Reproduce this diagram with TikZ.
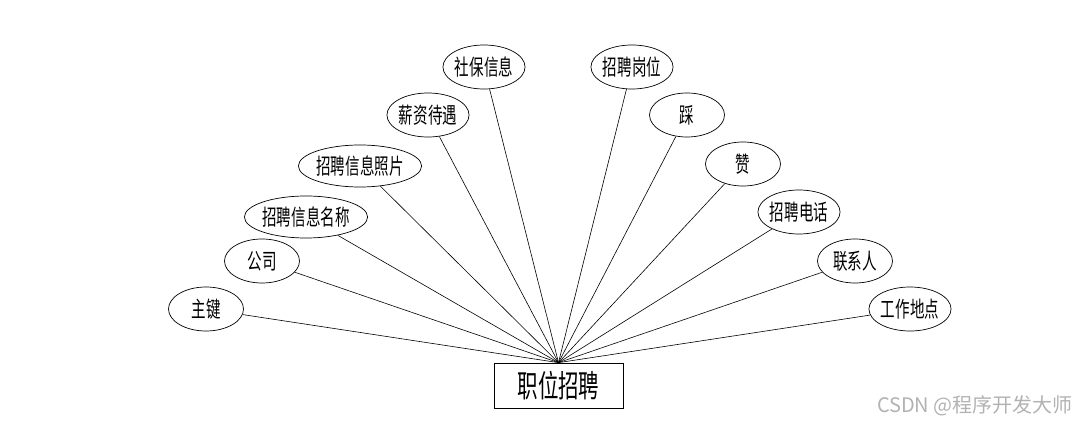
\documentclass[tikz,border=0pt]{standalone}
\usepackage{fontspec}
\setmainfont{Noto Sans CJK SC}
\usetikzlibrary{shapes.geometric}
\tikzset{
  attr/.style={ellipse,draw,line width=0.7pt,inner sep=0pt,minimum width=75pt,minimum height=44pt},
  wide/.style={minimum width=99pt,minimum height=42pt},
  ent/.style={rectangle,draw,line width=0.7pt,inner sep=0pt,minimum width=129pt,minimum height=45pt},
  link/.style={line width=0.6pt}
}
\newcommand{\at}[1]{{\fontsize{22}{22}\selectfont\scalebox{0.66}[1]{#1}}}
\begin{document}
\begin{tikzpicture}[x=1pt,y=-1pt]
\useasboundingbox (0,0) rectangle (1076,422);
\node[ent] (r) at (558.5,385.5) {\fontsize{31}{31}\selectfont\scalebox{0.66}[1]{职位招聘}};
\node[attr] (a1) at (206,309) {\at{主键}};
\node[attr] (a2) at (262,261) {\at{公司}};
\node[attr,wide] (a3) at (306,217) {\at{招聘信息名称}};
\node[attr,wide] (a4) at (360,166) {\at{招聘信息照片}};
\node[attr] (a5) at (428,115) {\at{薪资待遇}};
\node[attr] (a6) at (484,67) {\at{社保信息}};
\node[attr] (b1) at (632,67) {\at{招聘岗位}};
\node[attr] (b2) at (687,115) {\at{踩}};
\node[attr] (b3) at (743,164) {\at{赞}};
\node[attr] (b4) at (799,212) {\at{招聘电话}};
\node[attr] (b5) at (855,261) {\at{联系人}};
\node[attr] (b6) at (910,309) {\at{工作地点}};
\foreach \n in {a1,a2,a3,a4,a5,a6,b1,b2,b3,b4,b5,b6}
  \draw[link] (\n) -- (r.north);
\node[anchor=east,text=black!30,inner sep=0pt] (wm) at (1073,406) {\fontsize{20}{20}\selectfont CSDN @程序开发大师};
\end{tikzpicture}
\end{document}
